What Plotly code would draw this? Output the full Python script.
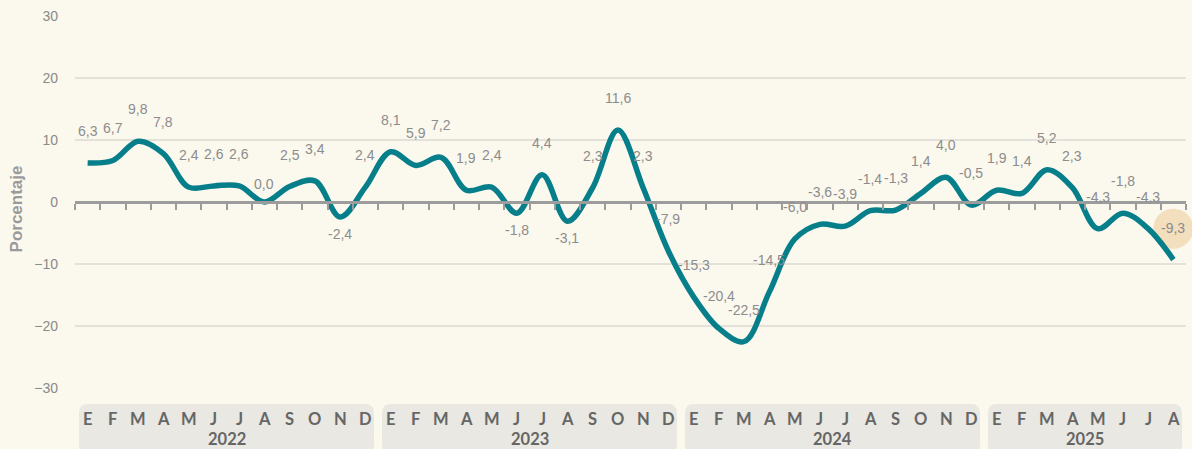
import plotly.graph_objects as go

# ---- data ----
years = ["2022", "2023", "2024", "2025"]
months_per_year = [12, 12, 12, 8]
month_letters = ["E", "F", "M", "A", "M", "J", "J", "A", "S", "O", "N", "D"]
values = [
    6.3, 6.7, 9.8, 7.8, 2.4, 2.6, 2.6, 0.0, 2.5, 3.4, -2.4, 2.4,
    8.1, 5.9, 7.2, 1.9, 2.4, -1.8, 4.4, -3.1, 2.3, 11.6, 2.3, -7.9,
    -15.3, -20.4, -22.5, -14.5, -6.0, -3.6, -3.9, -1.4, -1.3, 1.4, 4.0, -0.5,
    1.9, 1.4, 5.2, 2.3, -4.3, -1.8, -4.3, -9.3,
]
y_ticks = [-30, -20, -10, 0, 10, 20, 30]

# ---- styling ----
LINE_COLOR = "#077f8b"
LABEL_COLOR = "#8c8c8c"
BG = "#fbf8ee"
BOX_COLOR = "#e9e8e2"
FONT = "Liberation Sans, Arial, sans-serif"
AXFONT = "Lato, sans-serif"
labels_below = {10, 17, 19}    # indices whose label sits under the line
labels_low = {7}               # label closer to the line

n = len(values)
x = list(range(n))
xr = [-0.5, n - 0.5]
yr = [y_ticks[0], y_ticks[-1]]

def xp(v):
    return (v - xr[0]) / (xr[1] - xr[0])

def yp(v):
    return (v - yr[0]) / (yr[1] - yr[0])

fig = go.Figure()

fig.add_trace(go.Scatter(
    x=x, y=values, mode="lines",
    line=dict(color=LINE_COLOR, width=5.5, shape="spline", smoothing=1.0),
    hoverinfo="skip", showlegend=False,
))
# invisible trace that carries the zero-line axis
fig.add_trace(go.Scatter(
    x=xr, y=[0, 0], mode="lines", line=dict(width=0),
    xaxis="x2", yaxis="y", hoverinfo="skip", showlegend=False,
))

annotations = []
shapes = []

# data labels
for i, v in enumerate(values):
    if i in labels_below:
        shift = -17
    elif i in labels_low:
        shift = 18
    else:
        shift = 32
    annotations.append(dict(
        x=i, y=v, xref="x", yref="y", text=f"{v:.1f}".replace(".", ","),
        showarrow=False, yshift=shift, xanchor="center", yanchor="middle",
        font=dict(family=FONT, size=14, color=LABEL_COLOR),
    ))

# highlight circle around last label
shapes.append(dict(
    type="circle", xref="paper", yref="paper",
    xsizemode="pixel", ysizemode="pixel",
    xanchor=xp(x[-1]), yanchor=yp(values[-1]),
    x0=-20, x1=20, y0=11, y1=51,
    fillcolor="#f3dfbd", line=dict(width=0), layer="below",
))

# year boxes, month letters, year labels
start = 0
ppx = 1110.0
ppy = 372.0
for yname, cnt in zip(years, months_per_year):
    x0 = xp(start - 0.5) + 4 / ppx
    x1 = xp(start + cnt - 0.5) - 4 / ppx
    top = -16 / ppy
    bot = -66 / ppy
    rx = 9 / ppx
    ry = 9 / ppy
    path = (
        f"M {x0 + rx} {top} L {x1 - rx} {top} Q {x1} {top} {x1} {top - ry} "
        f"L {x1} {bot + ry} Q {x1} {bot} {x1 - rx} {bot} "
        f"L {x0 + rx} {bot} Q {x0} {bot} {x0} {bot + ry} "
        f"L {x0} {top - ry} Q {x0} {top} {x0 + rx} {top} Z"
    )
    shapes.append(dict(type="path", xref="paper", yref="paper", path=path,
                       fillcolor=BOX_COLOR, line=dict(width=0), layer="below"))
    for k in range(cnt):
        annotations.append(dict(
            x=start + k, y=0, xref="x", yref="paper", text=month_letters[k],
            showarrow=False, yshift=-30.5, yanchor="middle", borderpad=0,
            font=dict(family=AXFONT, size=16.5, color="#666666", weight=700),
        ))
    annotations.append(dict(
        x=start + (cnt - 1) / 2, y=0, xref="x", yref="paper", text=yname,
        showarrow=False, yshift=-50.8, yanchor="middle", borderpad=0,
        font=dict(family=AXFONT, size=16.5, color="#666666", weight=700),
    ))
    start += cnt

# y axis title
annotations.append(dict(
    x=0, y=0.48, xref="paper", yref="paper", text="Porcentaje", textangle=-90,
    showarrow=False, xshift=-59, xanchor="center", yanchor="middle",
    font=dict(family=FONT, size=17, color="#9a9a9a", weight="bold"),
))

fig.update_layout(
    width=1192, height=449,
    margin=dict(l=75, r=6, t=16, b=61),
    paper_bgcolor=BG, plot_bgcolor=BG,
    showlegend=False,
    xaxis=dict(range=xr, showgrid=False, zeroline=False, showline=False,
               showticklabels=False, ticks=""),
    xaxis2=dict(range=xr, overlaying="x", anchor="free", position=yp(0),
                side="bottom", showgrid=False, zeroline=False,
                showline=True, linecolor="#9c9c9c", linewidth=3,
                ticks="outside", ticklen=6, tickwidth=2, tickcolor="#9c9c9c",
                tickvals=[i - 0.5 for i in range(n + 1)], showticklabels=False),
    yaxis=dict(range=yr, tickvals=y_ticks, showgrid=True, gridcolor="#e4e1da",
               gridwidth=1.5, zeroline=False, showline=False, ticks="",
               ticklabelstandoff=16,
               tickfont=dict(family=FONT, size=14, color="#8a8a8a")),
    annotations=annotations,
    shapes=shapes,
)

fig.write_html(
    "out.html",
    config={"displayModeBar": False},
    post_script="document.body.style.margin='0';document.body.style.overflow='hidden';",
)
